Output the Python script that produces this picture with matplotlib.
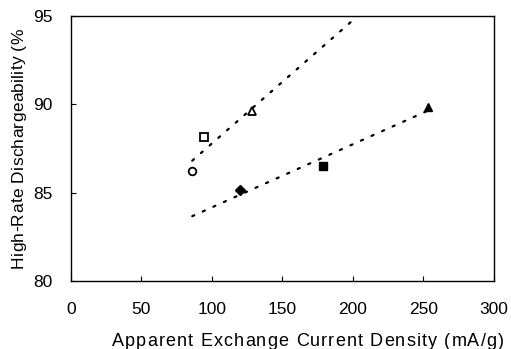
import numpy as np
import matplotlib
matplotlib.use("Agg")
import matplotlib.pyplot as plt
from matplotlib.font_manager import FontProperties

plt.rcParams['font.family'] = ['Liberation Sans', 'DejaVu Sans']

# Upper series (open markers)
open_x = [86.0, 94.3, 128.4]
open_y = [86.2, 88.15, 89.62]
open_markers = ['o', 's', '^']

# Lower series (filled markers)
filled_x = [119.9, 178.7, 253.0]
filled_y = [85.15, 86.5, 89.85]
filled_markers = ['D', 's', '^']

x_label = 'Apparent Exchange Current Density (mA/g)'
y_label = 'High-Rate Dischargeability (%'

W, H = 511, 349
fig = plt.figure(figsize=(W / 100, H / 100), dpi=100)
ax = fig.add_axes([0.1389, 0.1948, 0.8278, 0.7594])

# Linear trend lines
dot_style = dict(color='black', lw=1.6, linestyle=(0, (1, 4.2)),
                 dash_capstyle='round')
p_up = np.polyfit(open_x, open_y, 1)
xu = np.linspace(min(open_x), 215, 200)
ax.plot(xu, np.polyval(p_up, xu), **dot_style)
p_lo = np.polyfit(filled_x, filled_y, 1)
xl = np.linspace(86, max(filled_x), 200)
ax.plot(xl, np.polyval(p_lo, xl), **dot_style)

for x, y, m in zip(open_x, open_y, open_markers):
    ax.plot(x, y, marker=m, ms=5.5, mfc='white', mec='black', mew=1.3,
            linestyle='none', zorder=3)
for x, y, m in zip(filled_x, filled_y, filled_markers):
    ms = 5 if m == 'D' else 5.5
    ax.plot(x, y, marker=m, ms=ms, mfc='black', mec='black',
            linestyle='none', zorder=3)

ax.set_xlim(0, 300)
ax.set_ylim(80, 95)
ax.set_xticks([0, 50, 100, 150, 200, 250, 300])
ax.set_yticks([80, 85, 90, 95])
ax.tick_params(direction='in', length=3.5, width=0.8, labelsize=12.5)
ax.tick_params(axis='x', pad=15)
ax.tick_params(axis='y', pad=13)
for s in ax.spines.values():
    s.set_linewidth(1.0)


def tracked_text(text, x0, y0, size, length, vertical=False):
    """Draw text letter by letter, spreading it over `length` pixels."""
    renderer = fig.canvas.get_renderer()
    prop = FontProperties(family=['Liberation Sans', 'DejaVu Sans'], size=size)
    widths = [renderer.get_text_width_height_descent(text[:i], prop, ismath=False)[0]
              if i else 0.0 for i in range(len(text) + 1)]
    track = max(0.0, (length - widths[-1]) / (len(text) - 1))
    for i, ch in enumerate(text):
        off = widths[i] + i * track
        if vertical:
            px, py = x0, y0 - off
            fig.text(px / W, 1 - py / H, ch, fontproperties=prop, rotation=90,
                     rotation_mode='anchor', ha='left', va='baseline')
        else:
            px, py = x0 + off, y0
            fig.text(px / W, 1 - py / H, ch, fontproperties=prop,
                     ha='left', va='baseline')


tracked_text(x_label, 112, 346, 13, 392)
tracked_text(y_label, 23, 268, 12.5, 240, vertical=True)

fig.savefig('out.png', dpi=100)
